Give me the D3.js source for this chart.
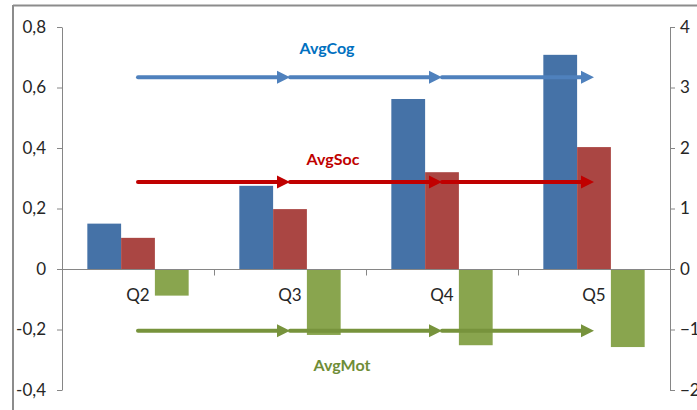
<!DOCTYPE html>
<html>
<head>
<meta charset="utf-8">
<script src="https://cdn.jsdelivr.net/npm/d3@7"></script>
<style>
  html, body { margin: 0; padding: 0; background: #fff; }
  svg { display: block; }
  text { font-family: Lato, "Open Sans", sans-serif; }
</style>
</head>
<body>
<svg id="chart" width="697" height="410"></svg>
<script>
// ---- data ----
const categories = ["Q2", "Q3", "Q4", "Q5"];
const seriesNames = ["AvgCog", "AvgSoc", "AvgMot"];
const avgCog = [0.15, 0.275, 0.562, 0.708];
const avgSoc = [0.103, 0.198, 0.32, 0.403];
const avgMot = [-0.088, -0.218, -0.252, -0.258];
const leftTicks = [-0.4, -0.2, 0, 0.2, 0.4, 0.6, 0.8];
const rightTicks = [-2, -1, 0, 1, 2, 3, 4];
// trend arrows: level read on the right axis, running between category centres
const arrowLevels = [3.17, 1.44, -1.02];

// ---- layout / style ----
const W = 697, H = 410;
const plot = { left: 62, right: 670, top: 27, bottom: 390 };
const barColors = ["#4572A7", "#AA4643", "#89A54E"];
const arrowColors = ["#4F81BD", "#C00000", "#77933C"];
const labelColors = ["#0070C0", "#C00000", "#6F8D37"];
const axisColor = "#868686";
const textColor = "#262626";

const svg = d3.select("#chart");
svg.append("rect").attr("width", W).attr("height", H).attr("fill", "#fff");

const x0 = d3.scaleBand().domain(categories).range([plot.left, plot.right]).padding(0);
const x1 = d3.scaleBand().domain(seriesNames).range([0, x0.bandwidth()])
  .paddingInner(0).paddingOuter(0.75);
const yL = d3.scaleLinear().domain([-0.4, 0.8]).range([plot.bottom, plot.top]);
const yR = d3.scaleLinear().domain([-2, 4]).range([plot.bottom, plot.top]);

// chart-area border (partially visible)
svg.append("line").attr("x1", 13).attr("x2", W).attr("y1", 5.5).attr("y2", 5.5)
  .attr("stroke", "#8c8c8c").attr("stroke-width", 2);
svg.append("line").attr("x1", 13).attr("x2", 13).attr("y1", 5).attr("y2", H)
  .attr("stroke", "#8c8c8c").attr("stroke-width", 2);

// bars
const seriesValues = [avgCog, avgSoc, avgMot];
seriesNames.forEach((s, si) => {
  svg.append("g").selectAll("rect")
    .data(categories.map((c, ci) => ({ c, v: seriesValues[si][ci] })))
    .join("rect")
    .attr("x", d => x0(d.c) + x1(s))
    .attr("width", x1.bandwidth())
    .attr("y", d => yL(Math.max(0, d.v)))
    .attr("height", d => Math.abs(yL(d.v) - yL(0)))
    .attr("fill", barColors[si]);
});

// left axis
const fmt = d => d === 0 ? "0" : d.toFixed(1).replace(".", ",");
const gL = svg.append("g").attr("transform", `translate(${plot.left},0)`)
  .call(d3.axisLeft(yL).tickValues(leftTicks).tickFormat(fmt).tickSize(5).tickSizeOuter(0).tickPadding(11));
// right axis
const gR = svg.append("g").attr("transform", `translate(${plot.right},0)`)
  .call(d3.axisRight(yR).tickValues(rightTicks).tickFormat(d3.format("d")).tickSize(5).tickSizeOuter(0).tickPadding(5));
[gL, gR].forEach(g => {
  g.select(".domain").attr("stroke", axisColor);
  g.selectAll(".tick line").attr("stroke", axisColor);
  g.selectAll(".tick text").attr("fill", textColor).style("font-size", "17px")
    .style("font-family", "Lato, 'Open Sans', sans-serif");
});

// category axis at zero
const zy = Math.round(yL(0)) + 0.5;
svg.append("line").attr("x1", plot.left).attr("x2", plot.right)
  .attr("y1", zy).attr("y2", zy).attr("stroke", axisColor);
svg.append("g").selectAll("line")
  .data(categories.slice(1))
  .join("line")
  .attr("x1", d => Math.round(x0(d)) + 0.5).attr("x2", d => Math.round(x0(d)) + 0.5)
  .attr("y1", zy).attr("y2", zy + 6).attr("stroke", axisColor);
svg.append("g").selectAll("text")
  .data(categories)
  .join("text")
  .attr("x", d => x0(d) + x0.bandwidth() / 2)
  .attr("y", yL(0) + 32)
  .attr("text-anchor", "middle")
  .attr("fill", textColor)
  .style("font-size", "17px")
  .text(d => d);

// trend arrows
const headLen = 13, headHalf = 6.5;
seriesNames.forEach((s, si) => {
  const yy = yR(arrowLevels[si]);
  const g = svg.append("g");
  for (let j = 0; j < categories.length - 1; j++) {
    const xa = x0(categories[j]) + x0.bandwidth() / 2;
    const xb = x0(categories[j + 1]) + x0.bandwidth() / 2;
    g.append("line").attr("x1", xa).attr("x2", xb - headLen + 2)
      .attr("y1", yy).attr("y2", yy)
      .attr("stroke", arrowColors[si]).attr("stroke-width", 4)
      .attr("stroke-linecap", "round");
    g.append("path")
      .attr("d", `M${xb},${yy} L${xb - headLen},${yy - headHalf} L${xb - headLen},${yy + headHalf} Z`)
      .attr("fill", arrowColors[si]);
  }
});

// arrow labels
const labelPos = [
  { x: 327, y: yR(arrowLevels[0]) - 23 },
  { x: 333, y: yR(arrowLevels[1]) - 17 },
  { x: 342, y: yR(arrowLevels[2]) + 40 }
];
seriesNames.forEach((s, si) => {
  svg.append("text")
    .attr("x", labelPos[si].x).attr("y", labelPos[si].y)
    .attr("text-anchor", "middle")
    .attr("fill", labelColors[si])
    .style("font-size", "16px").style("font-weight", "bold")
    .text(s);
});
</script>
</body>
</html>
